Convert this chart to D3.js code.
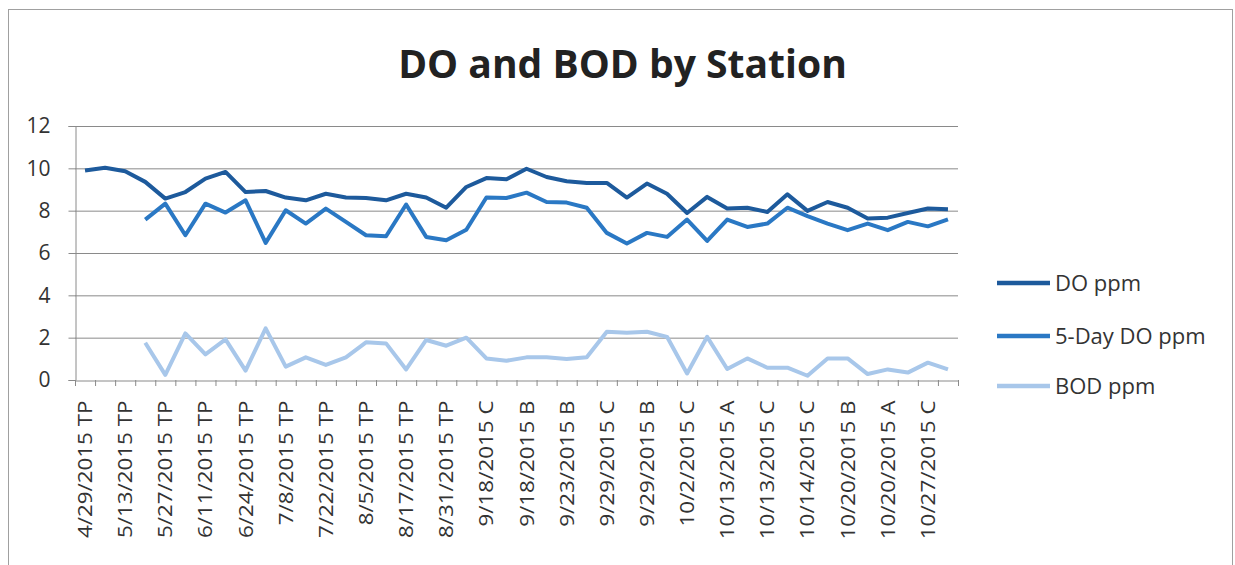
<!DOCTYPE html>
<html>
<head>
<meta charset="utf-8">
<script src="https://cdn.jsdelivr.net/npm/d3@7/dist/d3.min.js"></script>
<style>
html,body{margin:0;padding:0;background:#fff;}
svg{display:block;}
</style>
</head>
<body>
<svg id="chart" width="1235" height="565"></svg>
<script>
const categories = [
  "4/29/2015 TP","5/6/2015 TP","5/13/2015 TP","5/20/2015 TP","5/27/2015 TP","6/3/2015 TP",
  "6/11/2015 TP","6/17/2015 TP","6/24/2015 TP","7/1/2015 TP","7/8/2015 TP","7/15/2015 TP",
  "7/22/2015 TP","7/29/2015 TP","8/5/2015 TP","8/11/2015 TP","8/17/2015 TP","8/24/2015 TP",
  "8/31/2015 TP","9/18/2015 A","9/18/2015 C","9/18/2015 A2","9/18/2015 B","9/23/2015 A",
  "9/23/2015 B","9/23/2015 C","9/29/2015 C","9/29/2015 A","9/29/2015 B","10/2/2015 A",
  "10/2/2015 C","10/2/2015 B","10/13/2015 A","10/13/2015 B","10/13/2015 C","10/14/2015 A",
  "10/14/2015 C","10/14/2015 B","10/20/2015 B","10/20/2015 C","10/20/2015 A","10/27/2015 A",
  "10/27/2015 C","10/27/2015 B"
];
const doPpm = [
  9.9,10.03,9.86,9.36,8.57,8.88,9.51,9.83,8.88,8.93,8.62,8.49,8.8,8.62,8.6,8.49,8.8,8.62,
  8.14,9.12,9.54,9.48,9.98,9.59,9.39,9.31,9.31,8.62,9.28,8.8,7.89,8.65,8.1,8.14,7.94,8.77,
  7.99,8.41,8.14,7.63,7.67,7.89,8.1,8.07
];
const fiveDayDoPpm = [
  null,null,null,7.58,8.33,6.84,8.33,7.91,8.49,6.48,8.02,7.39,8.1,7.47,6.84,6.79,8.29,6.76,
  6.6,7.1,8.62,8.6,8.85,8.41,8.38,8.14,6.95,6.45,6.95,6.76,7.58,6.57,7.58,7.23,7.39,8.14,
  7.74,7.39,7.08,7.39,7.08,7.47,7.26,7.59
];
const bodPpm = [
  null,null,null,1.76,0.24,2.2,1.21,1.92,0.44,2.44,0.63,1.07,0.71,1.07,1.78,1.73,0.5,1.89,
  1.62,2.0,1.02,0.91,1.07,1.07,0.99,1.07,2.28,2.23,2.28,2.04,0.31,2.04,0.52,1.02,0.58,0.58,
  0.2,1.02,1.02,0.28,0.5,0.35,0.82,0.5
];
const yTicks = [0,2,4,6,8,10,12];
const seriesNames = ["DO ppm","5-Day DO ppm","BOD ppm"];
const seriesColors = ["#1d5a9c","#2a78c4","#a8c7ea"];
const title = "DO and BOD by Station";

const svg = d3.select("#chart");
svg.append("rect").attr("x",0).attr("y",0).attr("width",1235).attr("height",565).attr("fill","#fff");
// outer frame
svg.append("rect").attr("x",8.5).attr("y",9.5).attr("width",1224).attr("height",620)
  .attr("fill","none").attr("stroke","#a0a0a0").attr("stroke-width",1);

const plot = {left:75, right:958, top:126, bottom:380};
const x = d3.scaleBand().domain(categories).range([plot.left, plot.right]).padding(0);
const y = d3.scaleLinear().domain([0,12]).range([plot.bottom, plot.top]);
const cx = d => x(d) + x.bandwidth()/2;

// gridlines
svg.append("g").selectAll("line").data(yTicks.filter(t=>t>0)).join("line")
  .attr("x1",plot.left).attr("x2",plot.right)
  .attr("y1",d=>y(d)+0.5).attr("y2",d=>y(d)+0.5)
  .attr("stroke","#8a8a8a").attr("stroke-width",1);

// y axis
const yAxis = svg.append("g").attr("transform",`translate(${plot.left+0.5},0)`)
  .call(d3.axisLeft(y).tickValues(yTicks).tickSize(7).tickPadding(18).tickFormat(d3.format("d")));
yAxis.select(".domain").attr("stroke","#8a8a8a");
yAxis.selectAll(".tick line").attr("stroke","#8a8a8a");
yAxis.selectAll(".tick text").attr("font-family","Open Sans").attr("font-size",21).attr("fill","#333");

// x axis
const xAxis = svg.append("g").attr("transform",`translate(0,${plot.bottom+0.5})`)
  .call(d3.axisBottom(x).tickValues(categories.filter((d,i)=>i%2===0)).tickSize(0).tickPadding(0));
xAxis.select(".domain").attr("stroke","#8a8a8a");
xAxis.selectAll(".tick text")
  .attr("font-family","Open Sans").attr("font-size",20).attr("fill","#333")
  .attr("text-anchor","end").attr("dy","0.35em")
  .attr("transform","translate(0,20) rotate(-90) scale(1.12,1)").attr("x",0).attr("y",0);
// boundary ticks
svg.append("g").selectAll("line").data(categories.concat([null])).join("line")
  .attr("x1",d=> (d===null? plot.right : x(d)) + 0.5)
  .attr("x2",d=> (d===null? plot.right : x(d)) + 0.5)
  .attr("y1",plot.bottom).attr("y2",plot.bottom+6)
  .attr("stroke","#8a8a8a").attr("stroke-width",1);

// lines
const allSeries = [doPpm, fiveDayDoPpm, bodPpm];
const line = d3.line().defined(d=>d.v!==null).x(d=>cx(d.c)).y(d=>y(d.v));
[2,1,0].forEach(si=>{
  const data = categories.map((c,i)=>({c, v: allSeries[si][i]}));
  svg.append("path").datum(data).attr("d",line)
    .attr("fill","none").attr("stroke",seriesColors[si]).attr("stroke-width",4)
    .attr("stroke-linejoin","round").attr("stroke-linecap","butt");
});

// legend
const legendY = [283, 336, 386];
const lg = svg.append("g");
seriesNames.forEach((n,i)=>{
  lg.append("line").attr("x1",997).attr("x2",1050).attr("y1",legendY[i]).attr("y2",legendY[i])
    .attr("stroke",seriesColors[i]).attr("stroke-width",4.5);
  lg.append("text").attr("x",1055).attr("y",legendY[i]).attr("dy","0.35em")
    .attr("font-family","Open Sans").attr("font-size",22).attr("fill","#333").text(n);
});

// title
const t = svg.append("text").attr("x",622.5).attr("y",78).attr("text-anchor","middle")
  .attr("font-family","Open Sans").attr("font-weight","bold").attr("font-size",40)
  .attr("fill","#222").text(title);
const w = t.node().getComputedTextLength();
t.attr("font-size", 40*449/w);
</script>
</body>
</html>
